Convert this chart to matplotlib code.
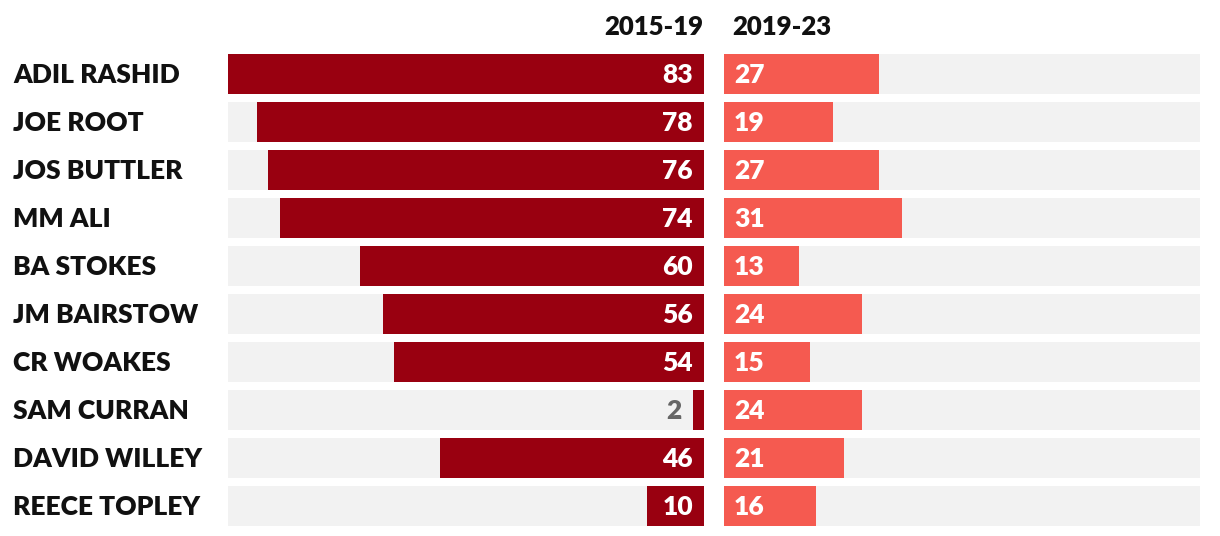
import matplotlib

matplotlib.use("Agg")
import matplotlib.pyplot as plt

players = ["ADIL RASHID", "JOE ROOT", "JOS BUTTLER", "MM ALI", "BA STOKES",
           "JM BAIRSTOW", "CR WOAKES", "SAM CURRAN", "DAVID WILLEY", "REECE TOPLEY"]
period_a = [83, 78, 76, 74, 60, 56, 54, 2, 46, 10]
period_b = [27, 19, 27, 31, 13, 24, 15, 24, 21, 16]
headers = ["2015-19", "2019-23"]

DARK = "#990010"
LIGHT = "#F55A50"
BG = "#F2F2F2"
FONT = "Lato"

W, H = 1220, 536
fig = plt.figure(figsize=(W / 100, H / 100), dpi=100)

vmax = max(period_a + period_b)
rows = list(range(len(players)))


def px_axes(x0, x1, y0, y1):
    return fig.add_axes([x0 / W, 1 - y1 / H, (x1 - x0) / W, (y1 - y0) / H])


ax_l = px_axes(228, 704, 50, 530)
ax_r = px_axes(724, 1200, 50, 530)

for ax in (ax_l, ax_r):
    ax.barh(rows, [vmax] * len(rows), height=40 / 48, color=BG, lw=0)
    ax.set_ylim(len(rows) - 0.5, -0.5)
    ax.axis("off")

ax_l.set_xlim(vmax, 0)
ax_r.set_xlim(0, vmax)
ax_l.barh(rows, period_a, height=40 / 48, color=DARK, lw=0)
ax_r.barh(rows, period_b, height=40 / 48, color=LIGHT, lw=0)

pad = 11 / 476 * vmax
txt = dict(va="center", fontsize=19, fontweight="heavy", family=FONT)
for i, v in enumerate(period_a):
    if v > 6:
        ax_l.text(pad, i + 0.02, str(v), ha="right", color="white", **txt)
    else:
        ax_l.text(v + pad, i + 0.02, str(v), ha="right", color="#666666", **txt)
for i, v in enumerate(period_b):
    ax_r.text(pad * 0.9, i + 0.02, str(v), ha="left", color="white", **txt)

for i, name in enumerate(players):
    fig.text(13 / W, 1 - (75 + 48 * i) / H, name, ha="left",
             color="#111111", **txt)

fig.text(703 / W, 1 - 27 / H, headers[0], ha="right", va="center",
         fontsize=18.5, fontweight="heavy", family=FONT, color="#111111")
fig.text(732 / W, 1 - 27 / H, headers[1], ha="left", va="center",
         fontsize=18.5, fontweight="heavy", family=FONT, color="#111111")

fig.savefig("out.png", dpi=100)
